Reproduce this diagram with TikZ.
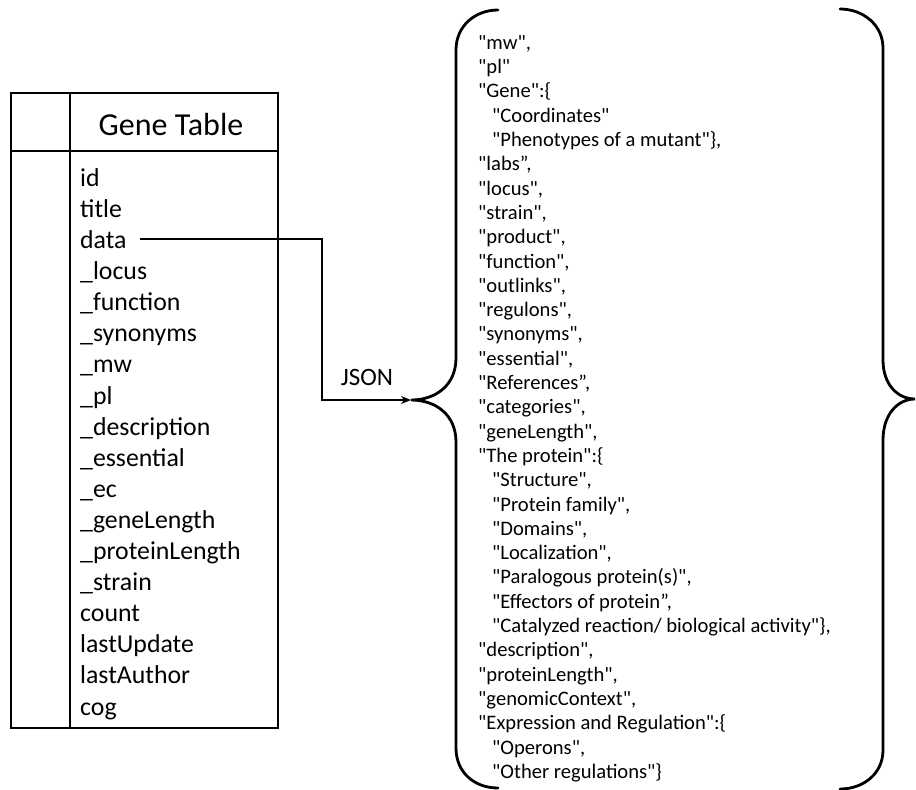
\documentclass[tikz,border=0pt]{standalone}
\usepackage{fontspec}
\setmainfont{Carlito}[Ligatures=TeXOff]
\usetikzlibrary{arrows.meta}

% one JSON line: index, left x, text
\newcommand\jsonline[3]{%
  \node[jtxt] (j#1) at (#2, {47+(#1-1)*24.3}) {#3};}

\begin{document}
\begin{tikzpicture}[x=1pt,y=-1pt,
  frame/.style={line width=2.8pt},
  rowtxt/.style={anchor=mid west,inner sep=0pt,font=\fontsize{25.8}{31}\selectfont},
  headtxt/.style={inner sep=0pt,font=\fontsize{32}{38}\selectfont},
  jtxt/.style={anchor=mid west,inner sep=0pt,font=\fontsize{20.6}{24}\selectfont},
  lbl/.style={inner sep=0pt,font=\fontsize{25}{30}\selectfont},
  brace/.style={line width=2.8pt,line cap=round},
  conn/.style={line width=2.4pt,-{Stealth[length=10pt,width=8pt]}}]

\useasboundingbox (0,0) rectangle (916,790);

% table frame
\draw[frame] (11,93) rectangle (278,728);
\draw[frame] (70,93) -- (70,728);
\draw[frame] (11,151) -- (278,151);
\node[headtxt] (head) at (171,125) {Gene Table};

% table fields
\foreach \t [count=\i] in {id,title,data,\_locus,\_function,\_synonyms,\_mw,\_pl,
    \_description,\_essential,\_ec,\_geneLength,\_proteinLength,\_strain,
    count,lastUpdate,lastAuthor,cog}
  \node[rowtxt] (row\i) at (80,{184+(\i-1)*31.1}) {\t};

% opening brace
\coordinate (ltip) at (411,400);
\draw[brace] (498,10) .. controls (475,10) and (456,26) .. (456,50)
  -- (456,358) .. controls (456,385) and (436,400) .. (ltip)
  .. controls (436,400) and (456,415) .. (456,442)
  -- (456,748) .. controls (456,773) and (475,788) .. (498,788);

% closing brace
\coordinate (rtip) at (915,399);
\draw[brace] (840,9) .. controls (863,9) and (883,25) .. (883,48)
  -- (883,360) .. controls (883,385) and (898,399) .. (rtip)
  .. controls (898,399) and (883,414) .. (883,440)
  -- (883,750) .. controls (883,774) and (863,789) .. (840,789);

% connector from the data field to the JSON object
\coordinate (dstart) at ([yshift=7pt]row3.mid east -| 140,0);
\coordinate (elbow) at (dstart -| 322,0);
\draw[conn] (dstart) -- (elbow) |- (ltip);
\node[lbl] (json) at (367,377) {JSON};

% JSON content
\jsonline{1}{478}{"mw",}
\jsonline{2}{478}{"pl"}
\jsonline{3}{478}{"Gene":\{}
\jsonline{4}{492}{"Coordinates"}
\jsonline{5}{492}{"Phenotypes of a mutant"\},}
\jsonline{6}{478}{"labs”,}
\jsonline{7}{478}{"locus",}
\jsonline{8}{478}{"strain",}
\jsonline{9}{478}{"product",}
\jsonline{10}{478}{"function",}
\jsonline{11}{478}{"outlinks",}
\jsonline{12}{478}{"regulons",}
\jsonline{13}{478}{"synonyms",}
\jsonline{14}{478}{"essential",}
\jsonline{15}{478}{"References”,}
\jsonline{16}{478}{"categories",}
\jsonline{17}{478}{"geneLength",}
\jsonline{18}{478}{"The protein":\{}
\jsonline{19}{492}{"Structure",}
\jsonline{20}{492}{"Protein family",}
\jsonline{21}{492}{"Domains",}
\jsonline{22}{492}{"Localization",}
\jsonline{23}{492}{"Paralogous protein(s)",}
\jsonline{24}{492}{"Effectors of protein”,}
\jsonline{25}{492}{"Catalyzed reaction/ biological activity"\},}
\jsonline{26}{478}{"description",}
\jsonline{27}{478}{"proteinLength",}
\jsonline{28}{478}{"genomicContext",}
\jsonline{29}{478}{"Expression and Regulation":\{}
\jsonline{30}{492}{"Operons",}
\jsonline{31}{492}{"Other regulations"\}}
\end{tikzpicture}
\end{document}
